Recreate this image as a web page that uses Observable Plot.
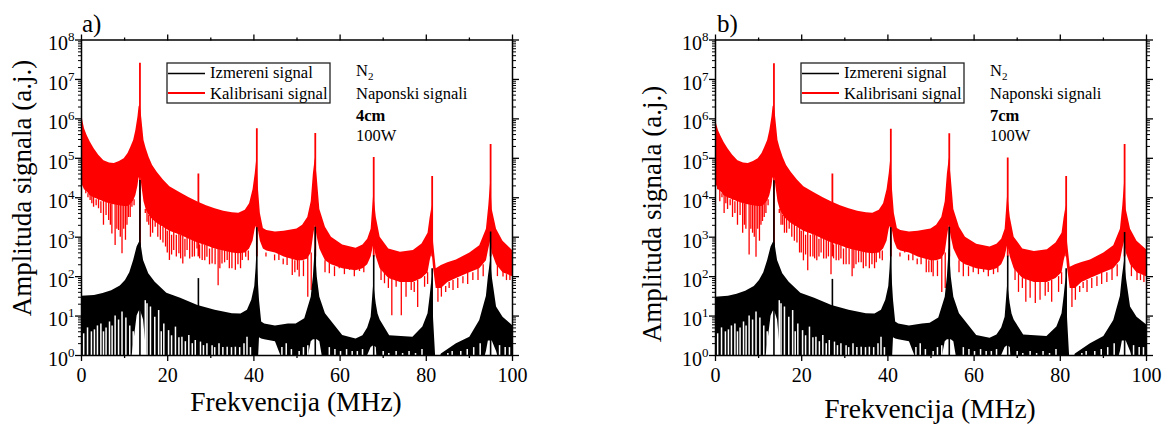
<!DOCTYPE html>
<html><head><meta charset="utf-8">
<script src="https://cdn.jsdelivr.net/npm/d3@7"></script>
<script src="https://cdn.jsdelivr.net/npm/@observablehq/plot@0.6"></script>
<style>
body{margin:0;background:#fff;}
#wrap{position:relative;width:1163px;height:426px;overflow:hidden;background:#fff;}
#wrap svg{position:absolute;top:0;}
</style></head><body><div id="wrap"></div>
<script>
// ---------- data (frequencies in MHz, amplitudes as log10 of a.j.) ----------
const xMajorTicks = [0, 20, 40, 60, 80, 100];
const xMinorTicks = [10, 30, 50, 70, 90];
const yDecadeTicks = [1, 10, 100, 1e3, 1e4, 1e5, 1e6, 1e7, 1e8];
const seriesNames = ["Izmereni signal", "Kalibrisani signal"];
const panelLabels = ["a)", "b)"];
const panelNotes = [["N", "Naponski signali", "4cm", "100W"], ["N", "Naponski signali", "7cm", "100W"]];
const harmonicF = [13.56, 27.12, 40.68, 54.24, 67.8, 81.36, 94.92];

// red (calibrated) envelope grid
const redF = [0,0.3,0.7,1.3,2,2.9,4,5.2,6.5,7.6,8.8,9.9,10.8,11.4,12.1,12.6,13.1,13.35,13.56,13.8,14.0,14.5,15.0,15.7,16.5,17.6,19,20.5,23,25,27,29,31,33,35,36.5,38,39,39.8,40.3,40.68,41.0,41.5,42.2,43,45,47,50,51.3,52.5,53.3,53.8,54.24,54.7,55.3,56.6,58,60.6,63.7,65.3,66.4,67.2,67.8,68.4,69.3,71.3,74,77,79,80.4,80.9,81.36,81.7,82.3,83.5,85,87,90.1,92.4,93.95,94.5,94.92,95.3,96.3,97.8,100];
const redHiA = [6.21,5.95,5.75,5.58,5.42, 5.25,5.08,4.94,4.88,4.87, 4.92,4.99,5.12,5.27,5.45, 5.7,6.05,6.3,6.35,6.2, 6.0,5.45,5.25,5.02,4.82, 4.64,4.45,4.28,4.12,4.0, 3.89,3.8,3.72,3.66,3.62, 3.61,3.68,3.85,4.2,4.6, 5.0,4.3,3.6,3.22,3.17, 3.13,3.15,3.21,3.3,3.5, 3.9,4.6,5.0,4.5,3.7, 3.25,3.0,2.8,2.72,2.8, 2.95,3.2,4.1,3.5,3.0, 2.7,2.62,2.66,2.83,3.1, 3.5,3.8,2.85,2.2,2.28, 2.35,2.42,2.6,2.78,3.2, 3.8,4.4,3.7,3.2,2.9, 2.66];
const redHiB = [6.02,5.85,5.7,5.55,5.4, 5.24,5.08,4.94,4.88,4.87, 4.92,4.99,5.12,5.27,5.45, 5.7,6.05,6.3,6.35,6.2, 6.0,5.45,5.25,5.02,4.82, 4.64,4.45,4.28,4.12,4.0, 3.89,3.8,3.72,3.66,3.62, 3.61,3.68,3.85,4.2,4.6, 5.0,4.3,3.6,3.22,3.17, 3.13,3.15,3.21,3.3,3.5, 3.9,4.6,5.0,4.5,3.7, 3.25,3.0,2.82,2.75,2.82, 2.95,3.2,4.1,3.5,3.0, 2.7,2.64,2.68,2.85,3.1, 3.5,3.8,2.85,2.24,2.3, 2.36,2.42,2.6,2.78,3.2, 3.8,4.4,3.7,3.2,2.9, 2.68];
const redLo = [4.4,4.3,4.2,4.15,4.05, 4.0,3.95,3.9,3.85,3.82, 3.8,3.78,3.78,3.82,3.92, 4.05,4.3,4.5,4.5,4.5, 4.3,3.9,3.7,3.55,3.45, 3.35,3.25,3.15,3.05,2.95, 2.85,2.78,2.7,2.65,2.6, 2.58,2.6,2.7,2.9,3.2, 3.3,3.2,2.9,2.7,2.65, 2.6,2.5,2.4,2.4,2.45, 2.6,3.0,3.3,3.0,2.7, 2.4,2.3,2.2,2.15,2.2, 2.3,2.5,2.8,2.5,2.2, 1.95,1.85,1.85,1.95,2.1, 2.4,2.6,2.2,1.7,1.7, 1.85,1.95,2.1,2.2,2.4, 2.7,2.9,2.6,2.3,2.1, 2.0];
const redPeakA = [7.41, 4.6, 5.75, 5.63, 5.02, 4.54, 5.35];
const redPeakB = [7.40, 4.6, 5.74, 5.62, 5.01, 4.54, 5.35];

// red comb dips (frequency, depth, top of the dip)
const redDipF = [0.5,1.0,2.0,2.8,3.95,5.1,6.3,7.05,7.8,8.6,9.4,10.2,10.9,11.7,15.2,16.0,17.1,18.3,19.5,20.4,21.4,22.6,23.5,24.5,25.7,26.8,28.0,29.1,30.3,31.7,32.6,33.8,34.9,35.7,37.3,38.1,39.2,43.9,45.8,47.7,48.9,50.1,50.5,52.5,53.3,57.5,59.8,62.2,64.5,70.3,72.0,73.0,74.2,75.3,76.5,78.0,79.6,82.7,83.5,86.2,88.5,90.8,97.8,99.4];
const redDipLowA = [4.39,4.1,3.93,3.76,3.72, 3.3,3.42,3.08,2.79,3.17, 2.58,2.92,3.5,3.76,3.38, 3.0,3.25,2.92,2.75,2.41, 2.66,2.58,2.32,2.66,2.49, 2.7,2.41,2.49,2.32,1.77, 2.32,2.41,2.2,2.16,2.41, 2.49,2.83,2.66,2.41,2.28, 2.03,2.16,1.99,1.48,1.65, 2.07,2.2,2.16,2.13,1.82, 1.01,1.73,1.01,1.48,1.65, 1.22,1.73,1.35,1.48,1.65, 1.82,1.9,1.99,1.9];
const redDipLowB = [4.2,3.9,3.6,3.7,3.5, 3.3,3.1,3.2,2.55,3.1, 2.49,2.9,3.4,3.6,3.3, 3.1,3.2,2.9,2.6,2.4, 2.15,2.5,2.4,2.6,2.45, 2.05,2.4,2.45,2.3,2.0, 2.3,2.35,2.25,2.2,2.35, 2.45,2.8,2.6,2.4,2.3, 2.1,2.1,2.0,1.6,1.7, 2.0,2.1,2.1,2.05,1.6, 1.35,1.45,1.32,1.4,1.5, 1.35,1.6,1.22,1.4,1.6, 1.75,1.85,1.9,1.85];
const redDipTop = [4.6,4.4,4.2,4.1,4.0, 3.95,3.9,3.9,3.85,3.85, 3.85,3.85,3.85,3.9,3.8, 3.6,3.5,3.4,3.3,3.2, 3.15,3.1,3.05,3.0,2.95, 2.9,2.85,2.8,2.75,2.75, 2.7,2.7,2.65,2.65,2.65, 2.65,2.8,2.7,2.65,2.55, 2.5,2.45,2.45,2.5,2.6, 2.35,2.25,2.2,2.25,2.1, 2.0,1.95,1.9,1.9,1.9, 1.9,2.0,1.8,1.8,1.9, 2.0,2.1,2.15,2.05];
// shallower secondary dips of the red comb
const redDip2F = [0.75,1.5,2.4,3.4,4.5,5.7,6.7,8.2,9.0,9.8,10.55,11.3,12.2,14.8,15.6,16.5,17.7,18.9,19.9,20.9,22.0,23.0,24.0,25.1,26.2,27.4,28.6,29.7,31.0,32.1,33.2,34.3,36.3,36.9,38.7,42.8,44.8,46.8,49.5,51.5,56.5,58.7,61.0,63.3,65.5,69.5,71.2,77.2,80.3,84.5,85.3,87.3,89.6,92.0,93.2,96.5,98.6];
const redDip2Low = [4.2,4.0,3.85,3.8,3.6,3.55,3.3,3.2,3.0,3.2,3.3,3.5,3.8,3.6,3.3,3.1,3.0,2.85,2.6,2.55,2.5,2.45,2.5,2.45,2.5,2.45,2.4,2.3,2.3,2.2,2.35,2.2,2.3,2.2,2.4,2.5,2.4,2.3,2.1,2.0,2.1,2.0,2.05,2.0,2.1,1.9,1.7,1.6,1.8,1.6,1.7,1.7,1.8,1.9,2.0,2.0,1.9];
const redDip2Top = [4.2,4.1,4.05,3.95,3.9,3.9,3.85,3.85,3.85,3.8,3.8,3.85,3.95,3.7,3.55,3.45,3.35,3.25,3.15,3.05,3.05,3.05,2.95,2.95,2.95,2.8,2.8,2.7,2.7,2.7,2.7,2.65,2.6,2.6,2.65,2.6,2.55,2.45,2.4,2.4,2.4,2.25,2.25,2.25,2.25,2.2,1.95,1.85,2.1,1.75,1.85,1.95,2.1,2.2,2.3,2.3,2.05];

// black (measured) envelope grid
const blackF = [0,3,5,7,9,10.2,11.2,12.1,12.9,13.3,13.56,13.8,14.4,15.6,17.1,19.8,23,27,31,35,37,38.5,39.5,40.2,40.5,40.68,40.9,41.3,41.8,42.5,45,48,49.8,51.8,53.3,53.8,54.24,54.7,55.3,56.6,60.6,63.7,65.3,66.4,67.2,67.8,68.4,68.8,69.3,71.5,76.9,79.2,80.4,80.9,81.36,81.7,82.3,83.5,87,90.1,92.4,93.95,94.4,94.92,95.3,96.3,97.8,100];
const blackHiA = [1.5,1.52,1.57,1.64,1.76, 1.9,2.1,2.41,2.75,2.84, 2.9,2.84,2.41,2.07,1.86, 1.58,1.45,1.27,1.15,1.06, 1.05,1.15,1.4,1.75,2.2, 2.6,2.1,1.4,0.85,0.8, 0.75,0.8,0.8,0.93,1.48, 1.99,2.74,1.99,1.48,1.06, 0.51,0.42,0.5,0.7,0.97, 1.82,1.3,1.05,0.9,0.5, 0.46,0.72,1.06,1.5,2.0, 0.9,-0.3,0.04,0.3,0.46, 0.89,1.5,1.99,2.41,1.99, 1.23,0.97,0.76];
const blackHiB = [1.48,1.5,1.55,1.63,1.75, 1.9,2.1,2.41,2.75,2.84, 2.9,2.84,2.41,2.07,1.86, 1.58,1.45,1.27,1.15,1.06, 1.05,1.15,1.4,1.75,2.2, 2.6,2.1,1.4,0.85,0.8, 0.75,0.8,0.82,0.95,1.48, 1.99,2.74,1.99,1.48,1.06, 0.51,0.44,0.52,0.7,0.97, 1.82,1.3,1.05,0.9,0.52, 0.48,0.72,1.06,1.5,2.0, 0.9,-0.3,0.04,0.3,0.48, 0.89,1.5,1.99,2.41,1.99, 1.23,0.97,0.78];
const blackLo = [-0.5,-0.5,-0.5,-0.5,-0.5, -0.5,-0.5,0.3,1.0,1.1, 1.15,1.1,0.9,-0.5,-0.5, -0.5,-0.5,-0.5,-0.5,-0.5, -0.5,-0.5,-0.5,-0.5,-0.5, -0.5,-0.5,0.45,0.42,0.4, 0.35,-0.5,-0.5,-0.5,0.35, 0.4,0.4,0.4,0.35,-0.5, -0.5,-0.5,-0.5,0.0,0.2, 0.25,0.2,-0.5,-0.5,-0.5, -0.5,-0.5,-0.5,-0.5,-0.5, -0.5,-0.5,-0.5,-0.5,-0.5, -0.5,0.1,0.37,0.37,0.37, 0.1,-0.5,-0.5];
const blackPeakA = [4.44, 1.95, 3.24, 3.25, 2.53, 2.2, 3.13];
const blackPeakB = [4.43, 1.93, 3.24, 3.25, 2.52, 2.2, 3.12];

// white gaps in the black comb (frequency, height reached from the floor)
const blackGapF = [0.5,1.4,2.3,3.0,3.7,4.5,5.1,5.7,6.5,7.1,7.8,8.6,9.4,10.3,11.2,12.0,14.8,15.2,16.0,17.0,17.9,18.5,19.1,20.2,20.9,21.8,22.6,23.3,24.1,24.9,25.7,26.4,27.6,28.3,29.1,30.3,30.9,31.9,32.8,33.8,34.8,35.7,36.7,37.7,38.4,39.2,46.5,47.5,48.7,50.5,51.5,52.5,57.5,58.8,60.1,61.5,62.8,64.0,65.2,70.0,71.3,73.0,74.5,76.0,77.5,79.0,85.0,86.0,88.0,89.5,91.0,92.5,97.0,98.3,99.3];
const blackGapTop = [0.55,0.7,0.6,0.65,0.75,0.8,0.6,0.7,0.85,0.75,1.0,0.9,1.1,0.95,0.75,0.6,1.39,1.31,1.23,0.97,1.14,0.6,0.8,0.63,0.5,0.72,0.45,0.46,0.35,0.51,0.3,0.38,0.34,0.25,0.3,0.25,0.2,0.3,0.2,0.21,0.2,0.21,0.2,0.3,0.46,0.2,0.2,0.3,0.15,0.1,0.2,0.25,0.2,0.15,0.1,0.15,0.1,0.1,0.15,0.1,0.05,0.1,0.05,0.1,0.05,0.15,0.05,0.1,0.1,0.15,0.2,0.3,0.25,0.2,0.2];

// ---------- drawing ----------
const FONT = '"Liberation Serif", "Times New Roman", serif';
const RED = "#ff0000";
const FLOOR = 0.3; // below the axis, clipped

function yMinor() {
  const out = [];
  for (const d of yDecadeTicks.slice(0, -1)) for (let m = 2; m <= 9; m++) out.push(m * d);
  return out;
}

function buildPanel(cfg) {
  const red = redF.map((f, i) => ({f, hi: 10 ** cfg.redHi[i], lo: 10 ** redLo[i]}));
  const black = blackF.map((f, i) => ({f, hi: 10 ** cfg.blackHi[i], lo: 10 ** blackLo[i]}));
  const redDips = redDipF.map((f, i) => ({f, lo: 10 ** cfg.redDipLow[i], hi: 10 ** redDipTop[i]}))
    .concat(redDip2F.map((f, i) => ({f, lo: 10 ** redDip2Low[i], hi: 10 ** redDip2Top[i]})));
  const gaps = blackGapF.map((f, i) => ({f, lo: FLOOR, hi: 10 ** blackGapTop[i]}));
  const redSpikes = harmonicF.map((f, i) => ({f, lo: 10 ** 2.5, hi: 10 ** cfg.redPeak[i]}));
  const blackSpikes = harmonicF.map((f, i) => ({f, lo: FLOOR, hi: 10 ** cfg.blackPeak[i]}));
  const blank = () => "";
  const plot = Plot.plot({
    width: cfg.width, height: 426,
    marginLeft: 81, marginRight: cfg.width - 81 - 431, marginTop: 39.5, marginBottom: 71,
    x: {domain: [0, 100]},
    y: {type: "log", domain: [1, 1e8]},
    style: {fontFamily: FONT, fontSize: "20px", color: "#000", background: "transparent", overflow: "visible"},
    marks: [
      Plot.areaY(red, {x: "f", y1: "lo", y2: "hi", fill: RED, clip: true}),
      Plot.ruleX(redDips, {x: "f", y1: "lo", y2: "hi", stroke: RED, strokeWidth: 1.3, clip: true}),
      Plot.ruleX(redSpikes, {x: "f", y1: "lo", y2: "hi", stroke: RED, strokeWidth: 1.8, clip: true}),
      Plot.areaY(black, {x: "f", y1: "lo", y2: "hi", fill: "#000", clip: true}),
      Plot.ruleX(gaps, {x: "f", y1: "lo", y2: "hi", stroke: "#fff", strokeWidth: 1.5, clip: true}),
      Plot.ruleX(blackSpikes, {x: "f", y1: "lo", y2: "hi", stroke: "#000", strokeWidth: 1.6, clip: true}),
      Plot.frame({stroke: "#000", strokeWidth: 1.5}),
      Plot.axisX({anchor: "bottom", ticks: xMajorTicks, tickSize: 6, tickPadding: 6, strokeWidth: 1.3, fontSize: 20, label: null}),
      Plot.axisX({anchor: "bottom", ticks: xMinorTicks, tickSize: 3, strokeWidth: 1.3, tickFormat: blank, label: null}),
      Plot.axisX({anchor: "top", ticks: xMajorTicks, tickSize: 6, strokeWidth: 1.3, tickFormat: blank, label: null}),
      Plot.axisX({anchor: "top", ticks: xMinorTicks, tickSize: 3, strokeWidth: 1.3, tickFormat: blank, label: null}),
      Plot.axisY({anchor: "left", ticks: yDecadeTicks, tickSize: 6, tickPadding: 1, strokeWidth: 1.3, fontSize: 20,
                  tickFormat: d => String(Math.round(Math.log10(d))), label: null}),
      Plot.axisY({anchor: "left", ticks: yMinor(), tickSize: 3, strokeWidth: 1, tickFormat: blank, label: null}),
      Plot.axisY({anchor: "right", ticks: yDecadeTicks, tickSize: 6, strokeWidth: 1.3, tickFormat: blank, label: null}),
      Plot.axisY({anchor: "right", ticks: yMinor(), tickSize: 3, strokeWidth: 1, tickFormat: blank, label: null})
    ]
  });
  plot.style.left = cfg.left + "px";
  const svg = d3.select(plot);
  // superscript exponents on the y tick labels
  svg.selectAll('g[aria-label="y-axis tick label"] text').each(function () {
    const t = this.textContent;
    if (!t) return;
    const s = d3.select(this);
    s.text(null);
    s.append("tspan").attr("dy", 4).text("10");
    s.append("tspan").attr("dy", -9).attr("font-size", 13).text(t);
  });
  const g = svg.append("g").attr("font-family", FONT).attr("fill", "#000").attr("text-anchor", "start");
  // panel label
  g.append("text").attr("x", cfg.titleX).attr("y", 32).attr("font-size", 25).text(cfg.title);
  // axis titles
  g.append("text").attr("transform", `translate(${cfg.yLabX},${cfg.yLabY}) rotate(-90)`)
    .attr("text-anchor", "middle").attr("font-size", 27).text("Amplituda signala (a.j.)");
  g.append("text").attr("x", 296).attr("y", cfg.xLabY).attr("text-anchor", "middle")
    .attr("font-size", 27.5).text("Frekvencija (MHz)");
  // legend
  const lx = 167, ly = 63;
  g.append("rect").attr("x", lx).attr("y", ly).attr("width", 163).attr("height", 40)
    .attr("fill", "#fff").attr("stroke", "#222").attr("stroke-width", 1.3);
  g.append("line").attr("x1", lx + 1).attr("x2", lx + 38).attr("y1", ly + 10.5).attr("y2", ly + 10.5)
    .attr("stroke", "#000").attr("stroke-width", 1.4);
  g.append("line").attr("x1", lx + 1).attr("x2", lx + 38).attr("y1", ly + 30).attr("y2", ly + 30)
    .attr("stroke", RED).attr("stroke-width", 1.8);
  g.append("text").attr("x", lx + 43).attr("y", ly + 15).attr("font-size", 16.6).text(seriesNames[0]);
  g.append("text").attr("x", lx + 43).attr("y", ly + 35.5).attr("font-size", 16.6).text(seriesNames[1]);
  // annotation block
  const ax = 356;
  const n2 = g.append("text").attr("x", ax).attr("y", 76).attr("font-size", 16.5);
  n2.append("tspan").text(cfg.notes[0]);
  n2.append("tspan").attr("dy", 4).attr("font-size", 11).text("2");
  g.append("text").attr("x", ax).attr("y", 99).attr("font-size", 16.5).text(cfg.notes[1]);
  g.append("text").attr("x", ax).attr("y", 121).attr("font-size", 16.5).attr("font-weight", "bold").text(cfg.notes[2]);
  g.append("text").attr("x", ax).attr("y", 141).attr("font-size", 16.5).text(cfg.notes[3]);
  return plot;
}

const wrap = document.getElementById("wrap");
wrap.appendChild(buildPanel({
  left: 0, width: 540, title: panelLabels[0], titleX: 82, notes: panelNotes[0],
  redHi: redHiA, redPeak: redPeakA, redDipLow: redDipLowA, blackHi: blackHiA, blackPeak: blackPeakA,
  yLabX: 31, yLabY: 188, xLabY: 411
}));
wrap.appendChild(buildPanel({
  left: 634, width: 529, title: panelLabels[1], titleX: 83, notes: panelNotes[1],
  redHi: redHiB, redPeak: redPeakB, redDipLow: redDipLowB, blackHi: blackHiB, blackPeak: blackPeakB,
  yLabX: 27, yLabY: 214, xLabY: 418
}));
</script></body></html>
